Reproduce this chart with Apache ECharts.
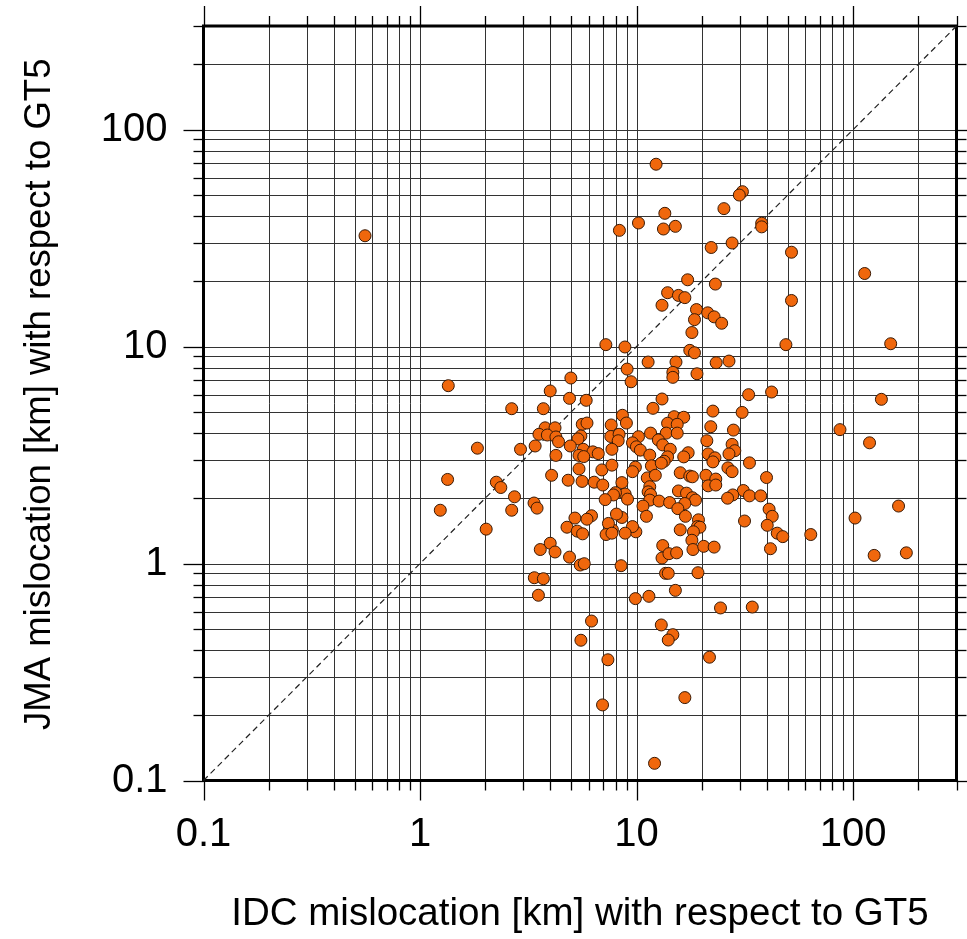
<!DOCTYPE html>
<html>
<head>
<meta charset="utf-8">
<title>IDC vs JMA mislocation</title>
<script src="https://cdn.jsdelivr.net/npm/echarts@6/dist/echarts.min.js"></script>
<style>
  html, body { margin: 0; padding: 0; background: #fff; }
  #chart { width: 967px; height: 939px; }
</style>
</head>
<body>
<div id="chart"></div>
<script>
// mislocation of each event [km]
var idcKm = [
  12.3, 30.8, 29.8, 25.3, 13.5, 10.2, 8.33, 13.3, 15.1, 37.8,
  37.8, 22.1, 27.6, 17.2, 23.1, 13.9, 15.6, 16.7, 13.1, 18.9,
  21.3, 22.8, 18.5, 24.7, 18.0, 17.6, 18.5, 7.21, 8.83, 11.3,
  15.2, 23.3, 26.7, 9.04, 14.7, 14.7, 19.0, 51.9, 113, 51.9,
  48.9, 149, 0.557, 9.43, 32.9, 42.0, 13.1, 11.9, 22.5, 30.7,
  8.60, 8.97, 14.9, 16.5, 13.9, 15.4, 22.0, 28.0, 11.6, 10.2,
  9.57, 13.7, 15.4, 12.6, 13.2, 9.98, 10.4, 21.1, 27.6, 28.4,
  14.3, 17.3, 16.5, 11.5, 13.9, 13.4, 21.4, 23.0, 22.5, 26.7,
  33.2, 11.7, 13.0, 9.87, 9.57, 26.4, 27.6, 15.9, 17.6, 18.1,
  20.9, 23.2, 21.4, 23.2, 11.2, 12.2, 8.55, 11.5, 11.3, 11.6,
  15.6, 17.0, 18.1, 18.7, 31.1, 33.2, 27.8, 26.3, 8.85, 9.08,
  11.5, 12.7, 14.2, 16.7, 10.7, 15.5, 8.55, 11.1, 16.8, 19.3,
  19.1, 19.6, 31.5, 7.73, 9.92, 9.57, 15.9, 18.3, 8.85, 18.0,
  18.2, 20.4, 22.8, 13.2, 13.1, 14.1, 15.3, 8.48, 13.6, 14.0,
  19.2, 15.1, 9.87, 11.4, 24.4, 34.2, 13.0, 14.7, 14.0, 21.7,
  16.7, 12.1, 44.6, 47.3, 41.5, 63.7, 125, 176, 135, 86.9,
  119, 39.8, 37.4, 40.9, 42.3, 40.1, 102, 162, 3.99, 3.59,
  4.20, 4.90, 5.49, 5.73, 3.37, 3.71, 3.52, 6.19, 5.53, 7.37,
  6.96, 1.35, 4.97, 3.99, 4.90, 5.85, 2.65, 3.71, 5.61, 5.90,
  7.63, 3.78, 4.20, 3.54, 3.87, 4.24, 4.36, 5.53, 5.36, 7.60,
  8.30, 8.22, 1.84, 2.91, 3.40, 4.94, 5.67, 6.28, 6.65, 7.69,
  4.24, 5.42, 5.70, 5.42, 6.91, 7.69, 1.34, 4.05, 4.83, 5.60,
  6.37, 6.98, 2.25, 2.36, 7.99, 7.82, 2.73, 7.16, 3.36, 3.47,
  1.24, 2.65, 5.19, 6.19, 5.90, 8.07, 2.02, 4.77, 5.32, 5.63,
  7.41, 7.23, 7.69
];
var jmaKm = [
  69.2, 51.7, 49.9, 43.2, 41.1, 37.1, 34.3, 34.8, 35.8, 37.0,
  35.6, 28.6, 30.0, 20.3, 19.4, 17.7, 17.2, 16.8, 15.5, 14.8,
  14.3, 13.7, 13.3, 12.8, 11.6, 9.60, 9.36, 10.2, 9.95, 8.48,
  8.48, 8.42, 8.57, 7.87, 7.60, 7.21, 7.49, 27.2, 21.7, 16.3,
  10.2, 10.3, 32.4, 6.88, 6.00, 6.17, 5.73, 5.19, 5.04, 4.97,
  4.82, 4.44, 4.75, 4.72, 4.43, 4.38, 4.27, 4.12, 3.99, 3.84,
  3.60, 3.99, 3.99, 3.71, 3.52, 3.45, 3.33, 3.68, 3.54, 3.31,
  3.36, 3.24, 3.10, 3.16, 3.10, 2.96, 3.20, 3.07, 2.94, 3.20,
  2.91, 2.82, 2.90, 2.78, 2.65, 2.76, 2.65, 2.62, 2.53, 2.51,
  2.55, 2.45, 2.28, 2.30, 2.48, 2.55, 2.36, 2.26, 2.14, 2.08,
  2.16, 2.11, 2.01, 1.96, 2.17, 2.05, 2.07, 2.00, 2.09, 1.98,
  1.96, 1.94, 1.91, 1.89, 1.84, 1.79, 1.63, 1.65, 1.65, 1.59,
  1.48, 1.47, 1.57, 1.43, 1.40, 1.48, 1.43, 1.40, 1.38, 1.28,
  1.16, 1.20, 1.19, 1.21, 1.06, 1.11, 1.12, 0.977, 0.901, 0.901,
  0.907, 0.752, 0.689, 0.706, 0.624, 0.630, 0.521, 0.470, 0.444, 0.370,
  0.241, 0.120, 1.38, 1.33, 1.17, 1.36, 1.09, 1.12, 5.71, 4.14,
  3.60, 2.49, 2.05, 1.78, 1.65, 1.50, 1.62, 1.84, 1.24, 1.16,
  1.13, 1.07, 0.984, 0.998, 0.860, 0.851, 0.714, 0.543, 0.443, 0.360,
  0.223, 6.60, 7.16, 6.24, 5.77, 5.65, 5.17, 5.17, 4.38, 4.44,
  4.35, 4.22, 4.22, 3.94, 3.91, 3.83, 3.64, 3.87, 3.75, 3.85,
  3.94, 3.68, 3.40, 3.36, 3.48, 3.48, 3.36, 3.27, 3.21, 3.36,
  3.15, 3.15, 3.11, 2.73, 2.70, 2.84, 2.44, 2.55, 2.42, 2.39,
  2.37, 2.30, 2.37, 2.24, 2.12, 2.07, 2.03, 1.97, 1.90, 1.80,
  1.76, 1.76, 1.62, 1.66, 1.60, 1.69, 1.44, 1.47, 1.41, 1.37,
  1.53, 1.36, 1.38
];

// log axis range and grid lines (every 1..9 of each decade)
var axisMin = 0.1;
var axisMax = 300;
var majorTicks = [0.1, 1, 10, 100];
var minorTicks = [0.2, 0.3, 0.4, 0.5, 0.6, 0.7, 0.8, 0.9,
                  2, 3, 4, 5, 6, 7, 8, 9,
                  20, 30, 40, 50, 60, 70, 80, 90,
                  200, 300];
var oneToOne = [0.1, 300];

var FONT = 'Liberation Sans, Arial, Helvetica, sans-serif';

var points = [];
for (var i = 0; i < idcKm.length; i++) {
    points.push([idcKm[i], jmaKm[i]]);
}

var gridX = [], gridY = [];
majorTicks.forEach(function (v) { gridX.push([v, 1, 1]); gridY.push([1, v, 1]); });
minorTicks.forEach(function (v) { gridX.push([v, 1, 0]); gridY.push([1, v, 0]); });

var px = function (c) { return Math.round(c) + 0.5; };

// vertical grid line + ticks at bottom and top
var renderVertical = function (params, api) {
    var v = api.value(0);
    var len = api.value(2) ? 20 : 10;
    var b = api.coord([v, axisMin]);
    var t = api.coord([v, axisMax]);
    var x = px(b[0]);
    var kids = [
        { type: 'line', shape: { x1: x, y1: b[1], x2: x, y2: b[1] + len }, style: { stroke: '#000', lineWidth: 1.3 } },
        { type: 'line', shape: { x1: x, y1: t[1] - len, x2: x, y2: t[1] }, style: { stroke: '#000', lineWidth: 1.3 } }
    ];
    if (v > axisMin && v < axisMax) {
        kids.push({ type: 'line', shape: { x1: x, y1: t[1], x2: x, y2: b[1] }, style: { stroke: '#333', lineWidth: 1 } });
    }
    return { type: 'group', children: kids };
};

// horizontal grid line + ticks at left and right
var renderHorizontal = function (params, api) {
    var v = api.value(1);
    var len = api.value(2) ? 20 : 10;
    var l = api.coord([axisMin, v]);
    var r = api.coord([axisMax, v]);
    var y = px(l[1]);
    var kids = [
        { type: 'line', shape: { x1: l[0] - len, y1: y, x2: l[0], y2: y }, style: { stroke: '#000', lineWidth: 1.3 } },
        { type: 'line', shape: { x1: r[0], y1: y, x2: r[0] + len, y2: y }, style: { stroke: '#000', lineWidth: 1.3 } }
    ];
    if (v > axisMin && v < axisMax) {
        kids.push({ type: 'line', shape: { x1: l[0], y1: y, x2: r[0], y2: y }, style: { stroke: '#333', lineWidth: 1 } });
    }
    return { type: 'group', children: kids };
};

var decadeLabel = function (v) {
    var e = Math.log(v) / Math.LN10;
    if (Math.abs(e - Math.round(e)) > 1e-6) return '';
    return v < 1 ? '0.1' : String(Math.round(v));
};

var myChart = echarts.init(document.getElementById('chart'), null, { renderer: 'canvas' });

myChart.setOption({
    backgroundColor: '#fff',
    animation: false,
    grid: {
        left: 203.5,
        right: 10.5,
        top: 26,
        bottom: 158.5,
        show: true,
        borderColor: '#000',
        borderWidth: 3,
        backgroundColor: 'transparent',
        outerBoundsMode: 'none'
    },
    xAxis: {
        type: 'log',
        logBase: 10,
        min: axisMin,
        max: axisMax,
        name: 'IDC mislocation [km] with respect to GT5',
        nameLocation: 'middle',
        nameGap: 114,
        nameTextStyle: { color: '#000', fontSize: 38.5, fontFamily: FONT },
        axisLine: { show: false },
        axisTick: { show: false },
        splitLine: { show: false },
        axisLabel: {
            color: '#000',
            fontSize: 40,
            fontFamily: FONT,
            margin: 34,
            formatter: decadeLabel
        }
    },
    yAxis: {
        type: 'log',
        logBase: 10,
        min: axisMin,
        max: axisMax,
        name: 'JMA mislocation [km] with respect to GT5',
        nameLocation: 'middle',
        nameGap: 145,
        nameTextStyle: { color: '#000', fontSize: 36.5, fontFamily: FONT, padding: [0, 0, 0, 18] },
        axisLine: { show: false },
        axisTick: { show: false },
        splitLine: { show: false },
        axisLabel: {
            color: '#000',
            fontSize: 40,
            fontFamily: FONT,
            margin: 36,
            formatter: decadeLabel
        }
    },
    series: [
        {
            type: 'custom',
            silent: true,
            z: -1,
            encode: { x: 0, y: 1 },
            renderItem: renderVertical,
            data: gridX
        },
        {
            type: 'custom',
            silent: true,
            z: -1,
            encode: { x: 0, y: 1 },
            renderItem: renderHorizontal,
            data: gridY
        },
        {
            type: 'line',
            silent: true,
            showSymbol: false,
            z: 1,
            lineStyle: { color: '#222', width: 1.2, type: [6, 4] },
            data: [[oneToOne[0], oneToOne[0]], [oneToOne[1], oneToOne[1]]]
        },
        {
            type: 'scatter',
            symbol: 'circle',
            symbolSize: 12,
            z: 3,
            itemStyle: {
                color: '#f0670c',
                borderColor: '#3a1a05',
                borderWidth: 1,
                opacity: 1
            },
            data: points
        }
    ]
});
</script>
</body>
</html>
